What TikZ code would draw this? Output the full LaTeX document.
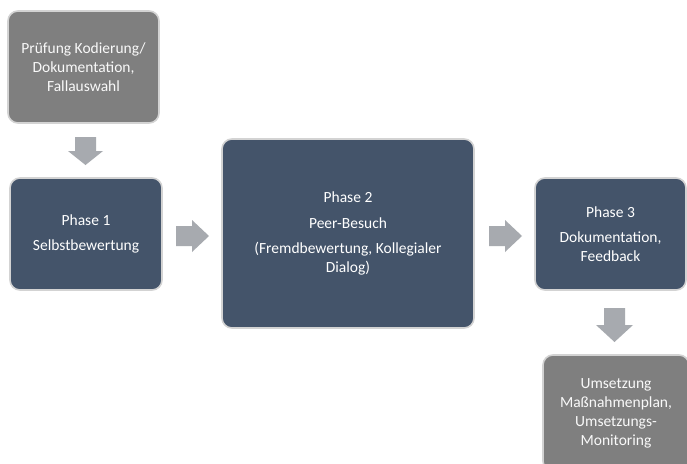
\documentclass[tikz,border=0pt]{standalone}
\usepackage{fontspec}
\setmainfont{Carlito}
\definecolor{phaseblue}{HTML}{44546A}
\definecolor{boxgray}{HTML}{7F7F7F}
\definecolor{arrowgray}{HTML}{A7AAAF}
\definecolor{edgegray}{HTML}{D3D3D3}
\tikzset{
  box/.style={draw=edgegray, line width=1.6pt, rounded corners=10pt, text=white,
    align=center, inner sep=0pt, font=\fontsize{15.5}{19}\selectfont},
  phasebox/.style={box, fill=phaseblue},
  graybox/.style={box, fill=boxgray, text=white!95!gray},
  blockarrow/.style={fill=arrowgray, draw=none},
}
\begin{document}
\begin{tikzpicture}[x=1pt,y=-1pt]
\useasboundingbox (0,0) rectangle (687,463);
\fill[white] (0,0) rectangle (687,463);
\begin{scope}
\clip (0,0) rectangle (687,463);
\node[graybox, minimum width=151pt, minimum height=112pt] (pre) at (83.5,67) {Prüfung Kodierung/\\Dokumentation,\\Fallauswahl};
\node[phasebox, minimum width=152pt, minimum height=112pt] (p1) at (86,234) {Phase 1\\[6pt]Selbstbewertung};
\node[phasebox, minimum width=252pt, minimum height=189pt] (p2) at (348,233.5) {Phase 2\\[7pt]Peer-Besuch\\[6pt](Fremdbewertung, Kollegialer\\Dialog)};
\node[phasebox, minimum width=151pt, minimum height=112pt] (p3) at (610.5,234) {Phase 3\\[6pt]Dokumentation,\\Feedback};
\node[graybox, minimum width=146pt, minimum height=116pt] (post) at (616,413) {Umsetzung\\Maßnahmenplan,\\Umsetzungs-\\Monitoring};
% block arrows
\fill[blockarrow] (75,137) -- (96,137) -- (96,151) -- (103,151) -- (85.5,165) -- (68,151) -- (75,151) -- cycle;
\fill[blockarrow] (176,226) -- (192,226) -- (192,220) -- (209,236) -- (192,252) -- (192,246) -- (176,246) -- cycle;
\fill[blockarrow] (489,226) -- (505,226) -- (505,220) -- (522,236) -- (505,252) -- (505,246) -- (489,246) -- cycle;
\fill[blockarrow] (604,308) -- (625,308) -- (625,325) -- (633,325) -- (614.5,342) -- (596,325) -- (604,325) -- cycle;
\end{scope}
\end{tikzpicture}
\end{document}
